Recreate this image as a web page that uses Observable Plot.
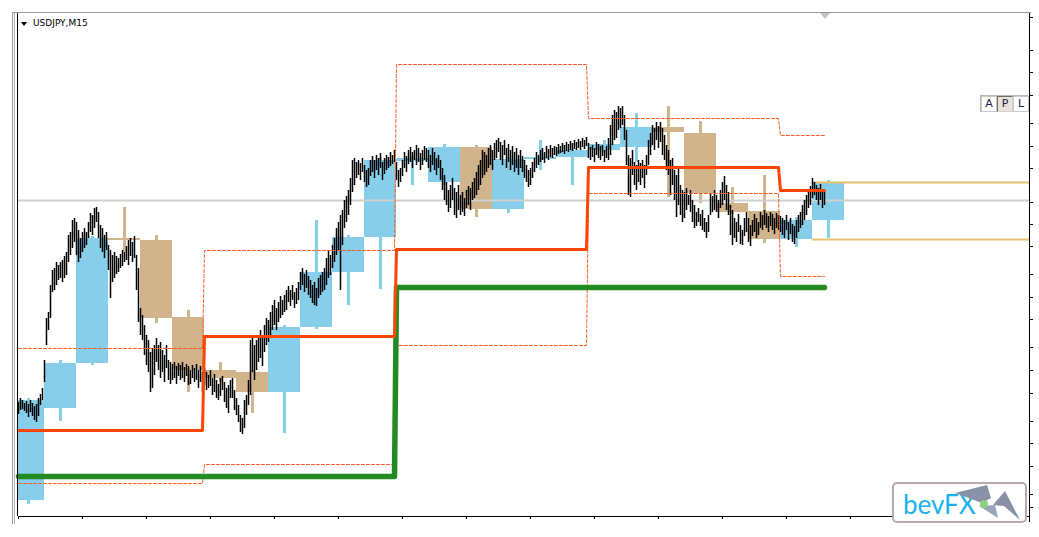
<!DOCTYPE html>
<html><head><meta charset="utf-8">
<script src="https://cdn.jsdelivr.net/npm/d3@7"></script>
<script src="https://cdn.jsdelivr.net/npm/@observablehq/plot@0.6"></script>
<style>
html,body{margin:0;padding:0;background:#fff;}
#wrap{position:relative;width:1039px;height:537px;overflow:hidden;}
#chart{position:absolute;left:0;top:0;}
.ov{position:absolute;}
.btn{position:absolute;top:96px;width:14px;height:14px;font:11px "DejaVu Sans",sans-serif;line-height:14px;text-align:center;color:#1c2040;background:#fff;border:1px solid #c8c8c8;}
</style></head>
<body>
<div id="wrap">
<div id="chart"></div>
<div class="ov" style="left:12px;top:12px;width:1019px;height:1px;background:#9a9a9a"></div>
<div class="ov" style="left:12px;top:12px;width:1px;height:512px;background:#9a9a9a"></div>
<div class="ov" style="left:14px;top:13px;width:1px;height:511px;background:#b4b4b4"></div>
<div class="ov" style="left:820px;top:13px;width:0;height:0;border-left:5px solid transparent;border-right:5px solid transparent;border-top:6px solid #c4c4c4"></div>
<div class="ov" style="left:21px;top:22px;width:0;height:0;border-left:3px solid transparent;border-right:3px solid transparent;border-top:4px solid #000"></div>
<div class="ov" style="left:33px;top:18px;font:9px 'DejaVu Sans',sans-serif;line-height:11px;color:#000;white-space:nowrap">USDJPY,M15</div>
<div class="ov" style="left:980px;top:95px;width:48px;height:17px;background:#b8b8b8"></div>
<div class="btn" style="left:981px">A</div>
<div class="btn" style="left:997px;background:#e8e2da;border-color:#6a6a6a #d0d0d0 #d0d0d0 #6a6a6a">P</div>
<div class="btn" style="left:1013px">L</div>
<div class="ov" style="left:892px;top:482px;width:131px;height:37px;background:#fff;border:2px solid #b8aaaa;border-radius:5px;overflow:hidden">
  <div style="position:absolute;left:9px;top:4px;font:400 26px Lato,sans-serif;color:#19b2ee;line-height:32px">bevFX</div>
  <svg width="131" height="37" style="position:absolute;left:0;top:0">
    <polygon points="61,9 93,1 97,14 88,19" fill="#8792a8"/>
    <polygon points="99,21 111,7 126,36 110,22" fill="#8792a8"/>
    <polygon points="85,22 101,21 104,34" fill="#9aa6bc"/>
    <circle cx="90" cy="20" r="4" fill="#8dd27e"/>
  </svg>
</div>
</div>
<script>
// ---- M15 bars (price, bar index 0..403) ----
const barHigh = [
110.98,111.02,111.00,110.97,110.99,110.96,111.00,110.97,110.94,110.96,111.02,111.06,111.12,111.40,111.82,111.88,
112.15,112.30,112.32,112.38,112.35,112.38,112.40,112.44,112.48,112.65,112.68,112.80,112.82,112.78,112.70,112.62,
112.68,112.72,112.68,112.78,112.87,112.85,112.92,112.93,112.88,112.75,112.72,112.65,112.68,112.55,112.50,112.45,
112.48,112.44,112.42,112.46,112.50,112.48,112.54,112.60,112.62,112.58,112.64,112.45,112.32,111.92,111.85,111.75,
111.65,111.60,111.48,111.52,111.55,111.62,111.55,111.58,111.50,111.45,111.55,111.40,111.38,111.36,111.38,111.34,
111.37,111.35,111.38,111.33,111.36,111.34,111.30,111.35,111.32,111.36,111.30,111.34,111.28,111.32,111.28,111.25,
111.30,111.22,111.26,111.20,111.16,111.22,111.24,111.18,111.12,111.15,111.20,111.22,111.10,111.02,110.95,110.85,
110.82,111.00,111.05,111.20,111.60,111.62,111.55,111.60,111.64,111.70,111.65,111.75,111.82,111.80,111.88,111.95,
112.00,111.92,111.98,112.04,112.00,112.05,112.10,112.14,112.10,112.15,112.08,112.12,112.18,112.28,112.32,112.26,
112.30,112.24,112.20,112.15,112.18,112.12,112.22,112.25,112.28,112.32,112.42,112.50,112.45,112.55,112.62,112.72,
112.78,112.85,112.90,113.00,113.04,113.10,113.22,113.40,113.42,113.38,113.40,113.37,113.42,113.35,113.30,113.32,
113.40,113.44,113.40,113.45,113.42,113.47,113.38,113.42,113.45,113.43,113.48,113.45,113.50,113.38,113.30,113.32,
113.40,113.48,113.44,113.50,113.53,113.48,113.50,113.55,113.52,113.47,113.50,113.54,113.52,113.50,113.45,113.52,
113.48,113.42,113.45,113.40,113.32,113.25,113.18,113.10,113.15,113.22,113.12,113.08,113.15,113.05,113.08,113.02,
113.10,113.14,113.12,113.18,113.22,113.28,113.35,113.40,113.50,113.48,113.45,113.52,113.55,113.50,113.57,113.60,
113.62,113.58,113.55,113.60,113.52,113.56,113.50,113.54,113.48,113.52,113.45,113.50,113.44,113.40,113.35,113.30,
113.32,113.38,113.42,113.48,113.45,113.50,113.52,113.48,113.54,113.51,113.55,113.52,113.54,113.53,113.56,113.54,
113.57,113.55,113.58,113.56,113.59,113.57,113.60,113.58,113.61,113.59,113.62,113.60,113.63,113.57,113.53,113.55,
113.52,113.58,113.56,113.54,113.55,113.50,113.54,113.62,113.75,113.85,113.90,113.88,113.94,113.92,113.94,113.85,
113.70,113.45,113.42,113.50,113.38,113.35,113.40,113.37,113.40,113.35,113.45,113.60,113.67,113.75,113.72,113.78,
113.74,113.78,113.72,113.65,113.55,113.50,113.40,113.42,113.30,113.25,113.32,113.15,113.10,113.08,113.12,113.05,
113.10,113.00,112.95,112.88,112.92,112.86,112.90,112.82,112.78,112.85,113.06,113.04,113.10,113.05,113.00,113.10,
113.18,113.24,113.15,113.08,112.95,112.90,112.82,112.78,112.86,112.75,112.70,112.82,112.88,112.82,112.75,112.80,
112.86,112.82,112.78,112.88,112.85,112.90,112.87,112.84,112.88,112.86,112.82,112.87,112.85,112.84,112.82,112.80,
112.85,112.78,112.82,112.76,112.74,112.80,112.85,112.88,112.95,113.00,113.05,113.10,113.14,113.22,113.18,113.15,
113.12,113.16,113.10,113.08];
const barLow = [
110.86,110.90,110.91,110.89,110.87,110.83,110.88,110.84,110.80,110.78,110.84,110.95,111.00,111.18,111.55,111.70,
111.82,112.08,112.10,112.15,112.20,112.22,112.18,112.22,112.25,112.38,112.45,112.52,112.58,112.45,112.38,112.42,
112.48,112.52,112.55,112.62,112.68,112.65,112.72,112.78,112.62,112.52,112.48,112.42,112.50,112.30,112.02,112.18,
112.22,112.26,112.28,112.32,112.34,112.38,112.40,112.35,112.44,112.38,112.42,112.10,111.78,111.65,111.60,111.45,
111.35,111.28,111.08,111.12,111.25,111.38,111.30,111.22,111.28,111.18,111.32,111.20,111.16,111.20,111.22,111.16,
111.24,111.20,111.22,111.18,111.24,111.15,111.16,111.22,111.18,111.20,111.12,111.18,111.08,111.15,111.10,111.12,
111.14,111.05,111.08,111.02,111.00,111.04,111.10,110.98,110.92,110.87,111.02,111.02,110.90,110.85,110.78,110.68,
110.66,110.72,110.85,110.95,111.05,111.28,111.20,111.30,111.38,111.42,111.34,111.48,111.55,111.58,111.64,111.70,
111.75,111.70,111.78,111.82,111.85,111.88,111.90,111.98,111.94,112.00,111.92,111.96,112.00,112.10,112.15,112.08,
112.12,112.05,112.02,111.97,111.95,111.94,112.02,112.05,112.08,112.10,112.15,112.22,112.25,112.32,112.38,112.45,
112.50,112.10,112.55,112.72,112.78,112.85,112.95,113.08,113.15,113.22,113.25,113.20,113.28,113.18,113.13,113.15,
113.24,113.28,113.22,113.30,113.25,113.32,113.20,113.26,113.30,113.32,113.34,113.36,113.38,113.20,113.13,113.18,
113.24,113.32,113.28,113.36,113.38,113.32,113.40,113.35,113.38,113.30,113.35,113.40,113.38,113.32,113.28,113.35,
113.30,113.25,113.32,113.20,113.10,113.00,112.95,112.88,112.92,113.00,112.85,112.82,112.90,112.85,112.88,112.84,
112.92,112.95,112.90,113.00,113.02,113.05,113.10,113.15,113.22,113.25,113.28,113.32,113.35,113.30,113.40,113.42,
113.48,113.40,113.35,113.45,113.32,113.38,113.30,113.35,113.28,113.32,113.25,113.32,113.28,113.22,113.18,113.13,
113.15,113.22,113.28,113.32,113.35,113.38,113.40,113.37,113.42,113.40,113.43,113.42,113.45,113.44,113.46,113.47,
113.48,113.46,113.49,113.48,113.50,113.49,113.51,113.50,113.52,113.50,113.53,113.51,113.54,113.42,113.40,113.43,
113.38,113.45,113.42,113.40,113.44,113.38,113.42,113.40,113.45,113.55,113.60,113.62,113.70,113.72,113.75,113.60,
113.35,113.05,113.03,113.25,113.15,113.10,113.18,113.15,113.22,113.12,113.25,113.35,113.45,113.55,113.50,113.60,
113.52,113.58,113.45,113.40,113.30,113.25,113.05,113.15,113.00,112.83,112.95,112.85,112.78,112.82,112.90,112.95,
112.88,112.78,112.72,112.74,112.78,112.74,112.70,112.68,112.62,112.68,112.85,112.88,112.90,112.88,112.82,112.92,
112.95,113.00,112.90,112.85,112.65,112.55,112.62,112.58,112.68,112.56,112.55,112.64,112.68,112.58,112.54,112.64,
112.68,112.62,112.65,112.72,112.70,112.75,112.72,112.68,112.74,112.70,112.66,112.72,112.70,112.68,112.65,112.62,
112.70,112.60,112.66,112.58,112.56,112.62,112.68,112.72,112.75,112.80,112.85,112.92,112.95,113.02,113.05,113.00,
112.95,113.00,112.92,112.95];

// ---- H4 candles (16 M15 bars each), first one starts 3 bars before the window ----
const h4FirstBar = -3, barsPerH4 = 16;
const h4Open  = [110.00,110.92,111.37,112.62,112.60,111.83,111.30,111.28,111.08,111.73,112.28,112.63,113.39,113.18,113.53,112.91,113.41,113.43,113.50,113.53,113.73,113.67,112.97,112.89,112.61,112.80];
const h4High  = [111.02,111.40,112.64,112.93,112.65,111.90,111.38,111.30,111.75,112.80,112.65,113.42,113.44,113.56,113.55,113.43,113.60,113.51,113.60,113.87,113.94,113.79,113.13,113.25,112.83,113.20];
const h4Low   = [109.96,110.79,111.35,112.48,111.77,111.08,111.18,110.87,110.67,111.71,111.95,112.11,113.15,113.15,112.83,112.87,113.30,113.15,113.48,113.38,113.03,112.97,112.86,112.57,112.53,112.62];
const h4Close = [111.00,111.37,112.62,112.60,111.82,111.30,111.22,111.08,111.73,112.28,112.63,113.40,113.42,113.53,112.91,113.41,113.43,113.50,113.56,113.73,113.68,113.07,112.88,112.61,112.80,113.18];

// ---- daily pivot levels (first bar of each day) ----
const dayStart = [0, 93, 189, 285, 381];
const pivotP   = [110.70, 111.64, 112.51, 113.33, 113.10];
const pivotR   = [111.52, 112.50, 114.36, 113.82, 113.65];
const pivotS   = [110.17, 110.36, 111.55, 113.07, 112.24];
const weeklyP  = [110.24, 110.24, 112.13, 112.13, 112.13];
const bidPrice = 113.00;
const h4Levels = [113.18, 112.61];

// ---- axis ticks ----
const priceTicks = [114.83,114.50,114.28,114.05,113.77,113.54,113.32,112.98,112.76,112.54,112.26,112.03,111.81,111.53,111.30,111.07,110.79,110.57,110.34,110.06,109.93];
const timeTicks = [0,32,64,96,128,160,192,224,256,288,320,352,384,416,448,480];

const lastBar = barHigh.length - 1;
const bars = barHigh.map((h, i) => ({i, high: h, low: barLow[i]}));
const h4 = h4Open.map((o, k) => {
  const s = h4FirstBar + k * barsPerH4;
  return {x1: s, x2: s + barsPerH4, xm: s + 8, open: o, close: h4Close[k], high: h4High[k], low: h4Low[k],
          color: h4Close[k] >= o ? "#87ceeb" : "#d2b48c"};
});
function steps(levels) {
  const pts = [];
  levels.forEach((v, d) => {
    const s = dayStart[d];
    const e = d < levels.length - 1 ? dayStart[d + 1] - 1 : lastBar;
    pts.push({i: s, v}, {i: e, v});
  });
  return pts;
}

const chart = Plot.plot({
  width: 1039, height: 537,
  marginLeft: 18, marginRight: 10, marginTop: 13, marginBottom: 21,
  x: {domain: [0, 505.5], axis: null},
  y: {domain: [109.84, 114.87], axis: null},
  marks: [
    Plot.ruleX(h4, {x: "xm", y1: "low", y2: "high", stroke: "color", strokeWidth: 3, clip: true}),
    Plot.rect(h4, {x1: "x1", x2: "x2", y1: "open", y2: "close", fill: "color", clip: true}),
    Plot.ruleY([bidPrice], {stroke: "#d0d0d0", strokeWidth: 2}),
    Plot.ruleY(h4Levels, {x1: lastBar - 6, x2: 505.5, stroke: "#e6c070", strokeWidth: 2}),
    Plot.ruleX(bars, {x: "i", y1: "low", y2: "high", stroke: "#000", strokeWidth: 1.5}),
    Plot.line(steps(pivotR), {x: "i", y: "v", stroke: "#ff5a22", strokeWidth: 1, strokeDasharray: "3,2"}),
    Plot.line(steps(pivotS), {x: "i", y: "v", stroke: "#ff5a22", strokeWidth: 1, strokeDasharray: "3,2"}),
    Plot.line(steps(weeklyP), {x: "i", y: "v", stroke: "#228b22", strokeWidth: 5.5, strokeLinecap: "round"}),
    Plot.line(steps(pivotP), {x: "i", y: "v", stroke: "#ff4500", strokeWidth: 3}),
    Plot.ruleX([0], {stroke: "#000", dx: -1}),
    Plot.ruleX([505.5], {stroke: "#000", y1: 114.87, y2: 109.78}),
    Plot.ruleY([109.84], {stroke: "#000"}),
    Plot.axisY({anchor: "right", ticks: priceTicks, tickSize: 3, tickFormat: () => "", label: null, stroke: "#000"}),
    Plot.axisX({anchor: "bottom", ticks: timeTicks, tickSize: 3, tickFormat: () => "", label: null, stroke: "#000"})
  ]
});
document.getElementById("chart").appendChild(chart);
</script>
</body></html>
